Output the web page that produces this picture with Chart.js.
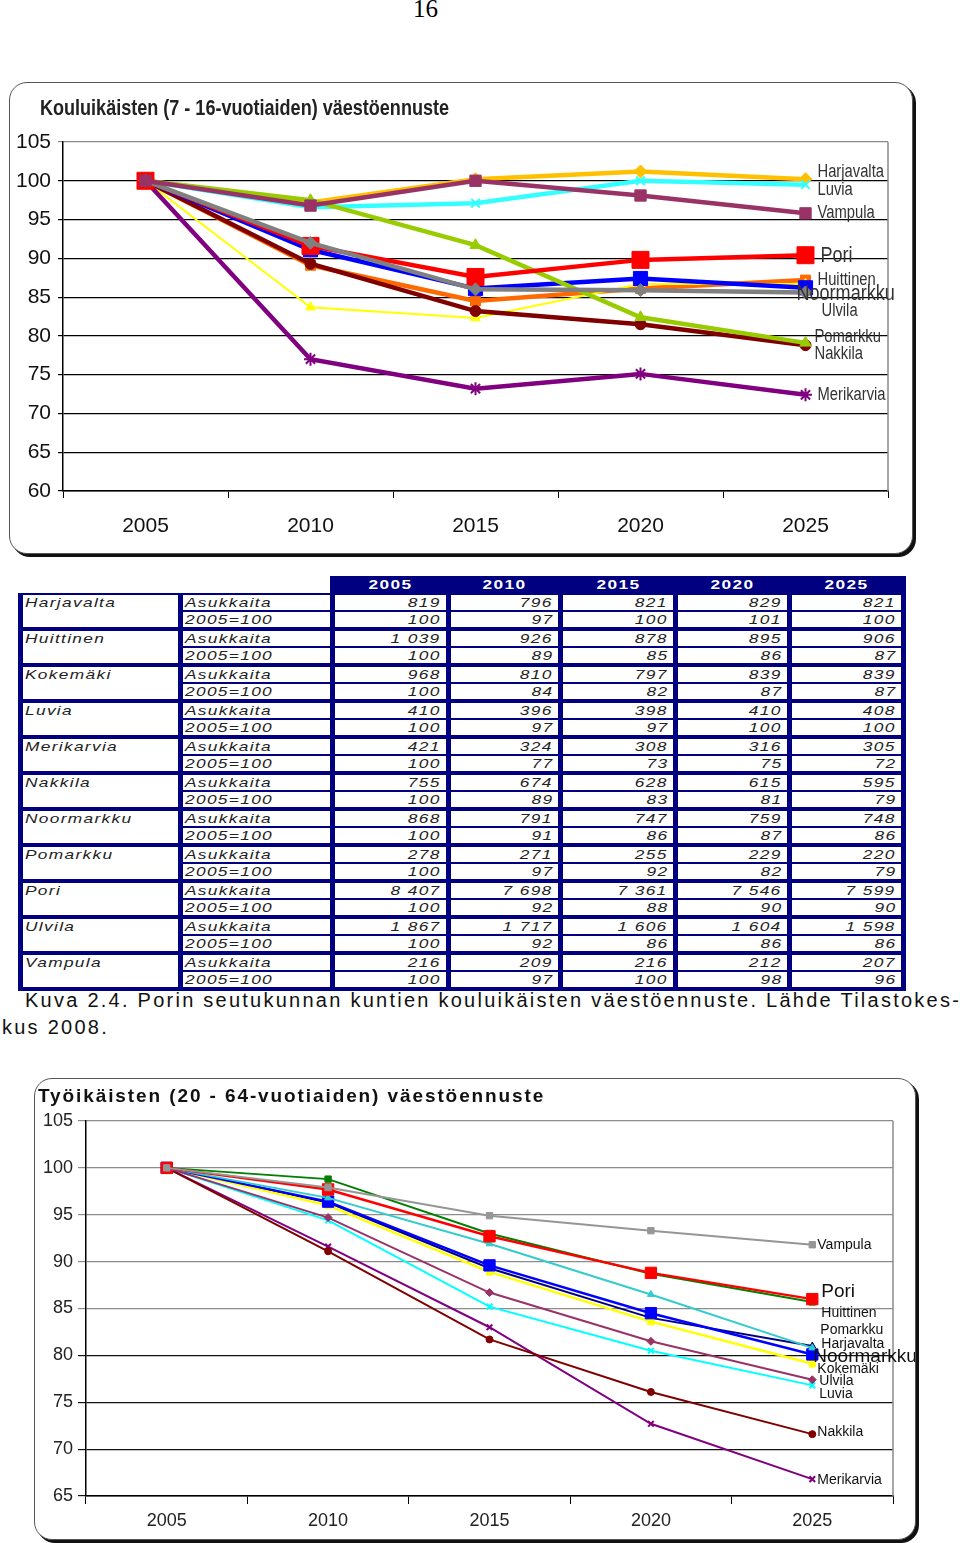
<!DOCTYPE html>
<html>
<head>
<meta charset="utf-8">
<script src="https://cdn.jsdelivr.net/npm/chart.js@4.4.1/dist/chart.umd.min.js"></script>
<style>
    body {
        margin: 0;
        width: 960px;
        height: 1543px;
        position: relative;
        background: #fff;
        font-family: 'Liberation Sans', Arial, sans-serif;
        overflow: hidden;
    }
    .abs { position: absolute; }
    #pagenum { left: 413px; top: -5px; font: 25px 'Liberation Serif', serif; }
    .box {
        position: absolute;
        border: 1.5px solid #555;
        border-radius: 18px;
        box-shadow: 3px 3px 0 #111;
        background: #fff;
    }
    canvas { position: absolute; }
    #title1 { left: 40px; top: 95px; font: bold 22px 'Liberation Sans', Arial, sans-serif; color: #222; transform: scaleX(0.82); transform-origin: left center; white-space: nowrap; }
    #title2 { left: 38px; top: 1085px; font: bold 19px 'Liberation Sans', Arial, sans-serif; letter-spacing: 1.9px; color: #111; white-space: nowrap; }
    table { border-collapse: separate; border-spacing: 5px 2px; background: #000080; table-layout: fixed; }
    #headTable { left: 330px; top: 576px; border-spacing: 5px 0; }
    #headTable td { height: 17px; padding: 0; text-align: center; color: #fff; font: bold 13px 'Liberation Sans', Arial, sans-serif; letter-spacing: 1px; }
    #bodyTable { left: 18px; top: 593px; }
    #bodyTable td { background: #fff; padding: 0; height: 15px; line-height: 15px; font: italic 13px 'Liberation Sans', Arial, sans-serif; color: #222; letter-spacing: 1px; overflow: hidden; white-space: nowrap; }
    #bodyTable tr.r2 td { height: 14px; border-bottom: 2px solid #000080; }
    #bodyTable td.n { vertical-align: top; border-bottom: 2px solid #000080; padding-left: 2px; }
    #bodyTable td.t { padding-left: 2px; }
    #bodyTable td.v { text-align: right; padding-right: 5px; }
    .s { display: inline-block; transform: scaleX(1.33); transform-origin: left center; }
    td.v .s { transform-origin: right center; }
    #headTable .s { transform-origin: center center; }
    #caption { left: 2px; top: 987px; font: 20px 'Liberation Sans', Arial, sans-serif; letter-spacing: 2.25px; line-height: 27px; color: #111; white-space: nowrap; text-indent: 23px; }
</style>
</head>
<body>
<div id="pagenum" class="abs">16</div>

<div class="box" style="left:9px; top:82px; width:902px; height:470px;"></div>
<canvas id="kouluChart" width="900" height="470" style="left:10px; top:82px;"></canvas>
<div id="title1" class="abs">Kouluikäisten (7 - 16-vuotiaiden) väestöennuste</div>

<table id="headTable" class="abs"><colgroup id="headCols"></colgroup><tr id="headRow"></tr></table>
<table id="bodyTable" class="abs"><colgroup id="bodyCols"></colgroup><tbody id="bodyRows"></tbody></table>

<div id="caption" class="abs">Kuva 2.4. Porin seutukunnan kuntien kouluikäisten väestöennuste. Lähde Tilastokes-<br>kus 2008.</div>

<div class="box" style="left:34px; top:1078px; width:880px; height:460px;"></div>
<canvas id="tyoChart" width="880" height="460" style="left:35px; top:1078px;"></canvas>
<div id="title2" class="abs">Työikäisten (20 - 64-vuotiaiden) väestöennuste</div>

<script>
    // years and municipalities
    var years = ['2005', '2010', '2015', '2020', '2025'];
    var kunnat = ['Harjavalta', 'Huittinen', 'Kokemäki', 'Luvia', 'Merikarvia', 'Nakkila',
                  'Noormarkku', 'Pomarkku', 'Pori', 'Ulvila', 'Vampula'];

    // table: school-age residents per year (same order as kunnat)
    var asukkaita2005 = [819, 1039, 968, 410, 421, 755, 868, 278, 8407, 1867, 216];
    var asukkaita2010 = [796, 926, 810, 396, 324, 674, 791, 271, 7698, 1717, 209];
    var asukkaita2015 = [821, 878, 797, 398, 308, 628, 747, 255, 7361, 1606, 216];
    var asukkaita2020 = [829, 895, 839, 410, 316, 615, 759, 229, 7546, 1604, 212];
    var asukkaita2025 = [821, 906, 839, 408, 305, 595, 748, 220, 7599, 1598, 207];
    // table: index 2005=100
    var indeksi2005 = [100, 100, 100, 100, 100, 100, 100, 100, 100, 100, 100];
    var indeksi2010 = [97, 89, 84, 97, 77, 89, 91, 97, 92, 92, 97];
    var indeksi2015 = [100, 85, 82, 97, 73, 83, 86, 92, 88, 86, 100];
    var indeksi2020 = [101, 86, 87, 100, 75, 81, 87, 82, 90, 86, 98];
    var indeksi2025 = [100, 87, 87, 100, 72, 79, 86, 79, 90, 86, 96];

    // chart 1: school-age (7-16) index
    var kouluHarjavalta = [100, 97.2, 100.2, 101.2, 100.2];
    var kouluHuittinen  = [100, 89.1, 84.5, 86.1, 87.2];
    var kouluKokemaki   = [100, 83.7, 82.3, 86.7, 86.7];
    var kouluLuvia      = [100, 96.6, 97.1, 100.0, 99.5];
    var kouluMerikarvia = [100, 77.0, 73.2, 75.1, 72.4];
    var kouluNakkila    = [100, 89.3, 83.2, 81.5, 78.8];
    var kouluNoormarkku = [100, 91.1, 86.1, 87.4, 86.2];
    var kouluPomarkku   = [100, 97.5, 91.7, 82.4, 79.1];
    var kouluPori       = [100, 91.6, 87.6, 89.8, 90.4];
    var kouluUlvila     = [100, 92.0, 86.0, 85.9, 85.6];
    var kouluVampula    = [100, 96.8, 100.0, 98.1, 95.8];

    // chart 2: working-age (20-64) index
    var tyoHarjavalta = [100, 96.3, 89.3, 84.0, 81.0];
    var tyoHuittinen  = [100, 98.8, 93.0, 88.7, 85.7];
    var tyoKokemaki   = [100, 96.0, 88.9, 83.6, 79.1];
    var tyoLuvia      = [100, 94.4, 85.2, 80.5, 76.8];
    var tyoMerikarvia = [100, 91.6, 83.0, 72.7, 66.8];
    var tyoNakkila    = [100, 91.1, 81.7, 76.1, 71.6];
    var tyoNoormarkku = [100, 96.4, 89.6, 84.5, 80.1];
    var tyoPomarkku   = [100, 96.8, 91.9, 86.5, 80.8];
    var tyoPori       = [100, 97.7, 92.7, 88.8, 86.0];
    var tyoUlvila     = [100, 94.7, 86.7, 81.5, 77.4];
    var tyoVampula    = [100, 97.9, 94.9, 93.3, 91.8];

    // ---------- table ----------
    var colWidths = [155, 147, 111, 107, 110, 109, 109];
    function fmt(n) { return String(n).replace(/\B(?=(\d{3})+(?!\d))/g, ' '); }
    function sp(t) { return '<span class="s">' + t + '</span>'; }

    var hc = '', hr = '';
    for (var i = 0; i < years.length; i++) {
        hc += '<col style="width:' + colWidths[i + 2] + 'px">';
        hr += '<td>' + sp(years[i]) + '</td>';
    }
    document.getElementById('headCols').innerHTML = hc;
    document.getElementById('headRow').innerHTML = hr;

    var bc = '';
    colWidths.forEach(function (w) { bc += '<col style="width:' + w + 'px">'; });
    document.getElementById('bodyCols').innerHTML = bc;

    var counts = [asukkaita2005, asukkaita2010, asukkaita2015, asukkaita2020, asukkaita2025];
    var idx = [indeksi2005, indeksi2010, indeksi2015, indeksi2020, indeksi2025];
    var rows = '';
    kunnat.forEach(function (k, i) {
        rows += '<tr><td class="n" rowspan="2">' + sp(k) + '</td><td class="t">' + sp('Asukkaita') + '</td>';
        counts.forEach(function (c) { rows += '<td class="v">' + sp(fmt(c[i])) + '</td>'; });
        rows += '</tr><tr class="r2"><td class="t">' + sp('2005=100') + '</td>';
        idx.forEach(function (c) { rows += '<td class="v">' + sp(c[i]) + '</td>'; });
        rows += '</tr>';
    });
    document.getElementById('bodyRows').innerHTML = rows;

    // ---------- charts ----------
    // draws the series name next to its last point (squeeze = horizontal scale, fakes a narrow font)
    var endLabels = {
        id: 'endLabels',
        afterDatasetsDraw: function (chart, args, opts) {
            var ctx = chart.ctx;
            opts.items.forEach(function (it, i) {
                if (!it || !it.size) return;   // no label for this series
                var meta = chart.getDatasetMeta(i);
                var pt = meta.data[meta.data.length - 1];
                ctx.save();
                ctx.fillStyle = opts.color;
                ctx.textBaseline = 'middle';
                ctx.font = it.size + 'px ' + opts.family;
                ctx.translate(pt.x + it.dx, pt.y + it.dy);
                ctx.scale(opts.squeeze, 1);
                ctx.fillText(chart.data.datasets[i].label, 0, 0);
                ctx.restore();
            });
        }
    };

    // gray right edge of the plot area
    var plotEdge = {
        id: 'plotEdge',
        beforeDatasetsDraw: function (chart) {
            var a = chart.chartArea, ctx = chart.ctx;
            ctx.save();
            ctx.strokeStyle = '#8a8a8a';
            ctx.lineWidth = 1.5;
            ctx.beginPath();
            ctx.moveTo(a.right, a.top);
            ctx.lineTo(a.right, a.bottom);
            ctx.stroke();
            ctx.restore();
        }
    };

    function series(label, data, color, style, radius, width, n, i) {
        return {
            label: label,
            data: data,
            borderColor: color,
            backgroundColor: color,
            pointBackgroundColor: color,
            pointBorderColor: color,
            pointStyle: style,
            pointRadius: radius,
            pointBorderWidth: (style === 'crossRot' || style === 'star') ? 2 : 1,
            borderWidth: width,
            tension: 0,
            fill: false,
            order: n - i
        };
    }

    var sans = "'Liberation Sans', Arial, sans-serif";

    var kouluSets = [
        ['Harjavalta', kouluHarjavalta, '#FFC000', 'rectRot', 6.5, 4.5],
        ['Huittinen', kouluHuittinen, '#FF6A00', 'rect', 7, 4.5],
        ['Kokemäki', kouluKokemaki, '#FFFF00', 'triangle', 5.5, 2],
        ['Luvia', kouluLuvia, '#33FFFF', 'crossRot', 6, 4.5],
        ['Merikarvia', kouluMerikarvia, '#800080', 'star', 6.5, 4.5],
        ['Nakkila', kouluNakkila, '#800000', 'circle', 5.5, 4.5],
        ['Noormarkku', kouluNoormarkku, '#0000FF', 'rect', 10, 4.5],
        ['Pomarkku', kouluPomarkku, '#99CC00', 'triangle', 6.5, 4.5],
        ['Pori', kouluPori, '#FF0000', 'rect', 12, 4.5],
        ['Ulvila', kouluUlvila, '#808080', 'rectRot', 6.5, 4.5],
        ['Vampula', kouluVampula, '#993366', 'rect', 8, 4.5]
    ];

    new Chart(document.getElementById('kouluChart'), {
        type: 'line',
        data: {
            labels: years,
            datasets: kouluSets.map(function (s, i) {
                return series(s[0], s[1], s[2], s[3], s[4], s[5], kouluSets.length, i);
            })
        },
        options: {
            responsive: false,
            animation: false,
            layout: { padding: { top: 60, right: 22, left: 0, bottom: 0 } },
            scales: {
                x: {
                    offset: true,
                    grid: { offset: true, drawOnChartArea: false, drawTicks: true, tickLength: 7, color: '#000' },
                    border: { color: '#000', width: 1.5 },
                    ticks: { color: '#111', padding: 16, font: { family: sans, size: 21 } },
                    afterFit: function (scale) { scale.height = 61; }
                },
                y: {
                    min: 60, max: 105,
                    ticks: { stepSize: 5, color: '#111', padding: 7, font: { family: sans, size: 21 } },
                    grid: {
                        tickLength: 5,
                        lineWidth: 1.2,
                        color: function (c) { return c.tick && c.tick.value === 105 ? '#8a8a8a' : '#000'; }
                    },
                    border: { color: '#000', width: 1.5 },
                    afterFit: function (scale) { scale.width = 53; }
                }
            },
            plugins: {
                legend: { display: false },
                tooltip: { enabled: false },
                endLabels: {
                    family: sans,
                    color: '#333',
                    squeeze: 0.82,
                    items: [
                        { dx: 12, dy: -7, size: 18 },   // Harjavalta
                        { dx: 12, dy: 0, size: 18 },    // Huittinen
                        { size: 0 },                    // Kokemäki (not labelled)
                        { dx: 12, dy: 5, size: 18 },    // Luvia
                        { dx: 12, dy: 0, size: 18 },    // Merikarvia
                        { dx: 9, dy: 9, size: 18 },     // Nakkila
                        { dx: -9, dy: 6, size: 22 },    // Noormarkku
                        { dx: 9, dy: -6, size: 18 },    // Pomarkku
                        { dx: 15, dy: 1, size: 22 },    // Pori
                        { dx: 16, dy: 19, size: 18 },   // Ulvila
                        { dx: 12, dy: 0, size: 18 }     // Vampula
                    ]
                }
            }
        },
        plugins: [endLabels, plotEdge]
    });

    var tyoSets = [
        ['Harjavalta', tyoHarjavalta, '#000080', 'triangle', 4, 2],
        ['Huittinen', tyoHuittinen, '#008000', 'rect', 4.5, 2],
        ['Kokemäki', tyoKokemaki, '#FFFF00', 'rect', 4.5, 2.5],
        ['Luvia', tyoLuvia, '#00FFFF', 'crossRot', 4, 2],
        ['Merikarvia', tyoMerikarvia, '#800080', 'crossRot', 4, 2],
        ['Nakkila', tyoNakkila, '#800000', 'circle', 3.5, 2],
        ['Noormarkku', tyoNoormarkku, '#0000FF', 'rect', 8, 2.5],
        ['Pomarkku', tyoPomarkku, '#33CCCC', 'triangle', 4, 2],
        ['Pori', tyoPori, '#FF0000', 'rect', 8, 2.5],
        ['Ulvila', tyoUlvila, '#993366', 'rectRot', 4, 2],
        ['Vampula', tyoVampula, '#969696', 'rect', 4.5, 2]
    ];

    new Chart(document.getElementById('tyoChart'), {
        type: 'line',
        data: {
            labels: years,
            datasets: tyoSets.map(function (s, i) {
                return series(s[0], s[1], s[2], s[3], s[4], s[5], tyoSets.length, i);
            })
        },
        options: {
            responsive: false,
            animation: false,
            layout: { padding: { top: 43, right: 22, left: 0, bottom: 0 } },
            scales: {
                x: {
                    offset: true,
                    grid: { offset: true, drawOnChartArea: false, drawTicks: true, tickLength: 8, color: '#000' },
                    border: { color: '#000', width: 1.5 },
                    ticks: { color: '#222', padding: 6, font: { family: sans, size: 18 } },
                    afterFit: function (scale) { scale.height = 42; }
                },
                y: {
                    min: 65, max: 105,
                    ticks: { stepSize: 5, color: '#222', padding: 5, font: { family: sans, size: 18 } },
                    grid: {
                        tickLength: 8,
                        lineWidth: 1.2,
                        color: function (c) { return c.tick && c.tick.value >= 85 ? '#8c8c8c' : '#111'; }
                    },
                    border: { color: '#000', width: 1.5 },
                    afterFit: function (scale) { scale.width = 51; }
                }
            },
            plugins: {
                legend: { display: false },
                tooltip: { enabled: false },
                endLabels: {
                    family: sans,
                    color: '#111',
                    squeeze: 1,
                    items: [
                        { dx: 9, dy: -2, size: 14 },    // Harjavalta
                        { dx: 9, dy: 11, size: 14 },    // Huittinen
                        { dx: 5, dy: 5, size: 14 },     // Kokemäki
                        { dx: 7, dy: 9, size: 14 },     // Luvia
                        { dx: 5, dy: 1, size: 14 },     // Merikarvia
                        { dx: 5, dy: -2, size: 14 },    // Nakkila
                        { dx: 1, dy: 2, size: 19 },     // Noormarkku
                        { dx: 8, dy: -18, size: 14 },   // Pomarkku
                        { dx: 9, dy: -7, size: 19 },    // Pori
                        { dx: 7, dy: 1, size: 14 },     // Ulvila
                        { dx: 5, dy: 0, size: 14 }      // Vampula
                    ]
                }
            }
        },
        plugins: [endLabels, plotEdge]
    });
</script>
</body>
</html>
